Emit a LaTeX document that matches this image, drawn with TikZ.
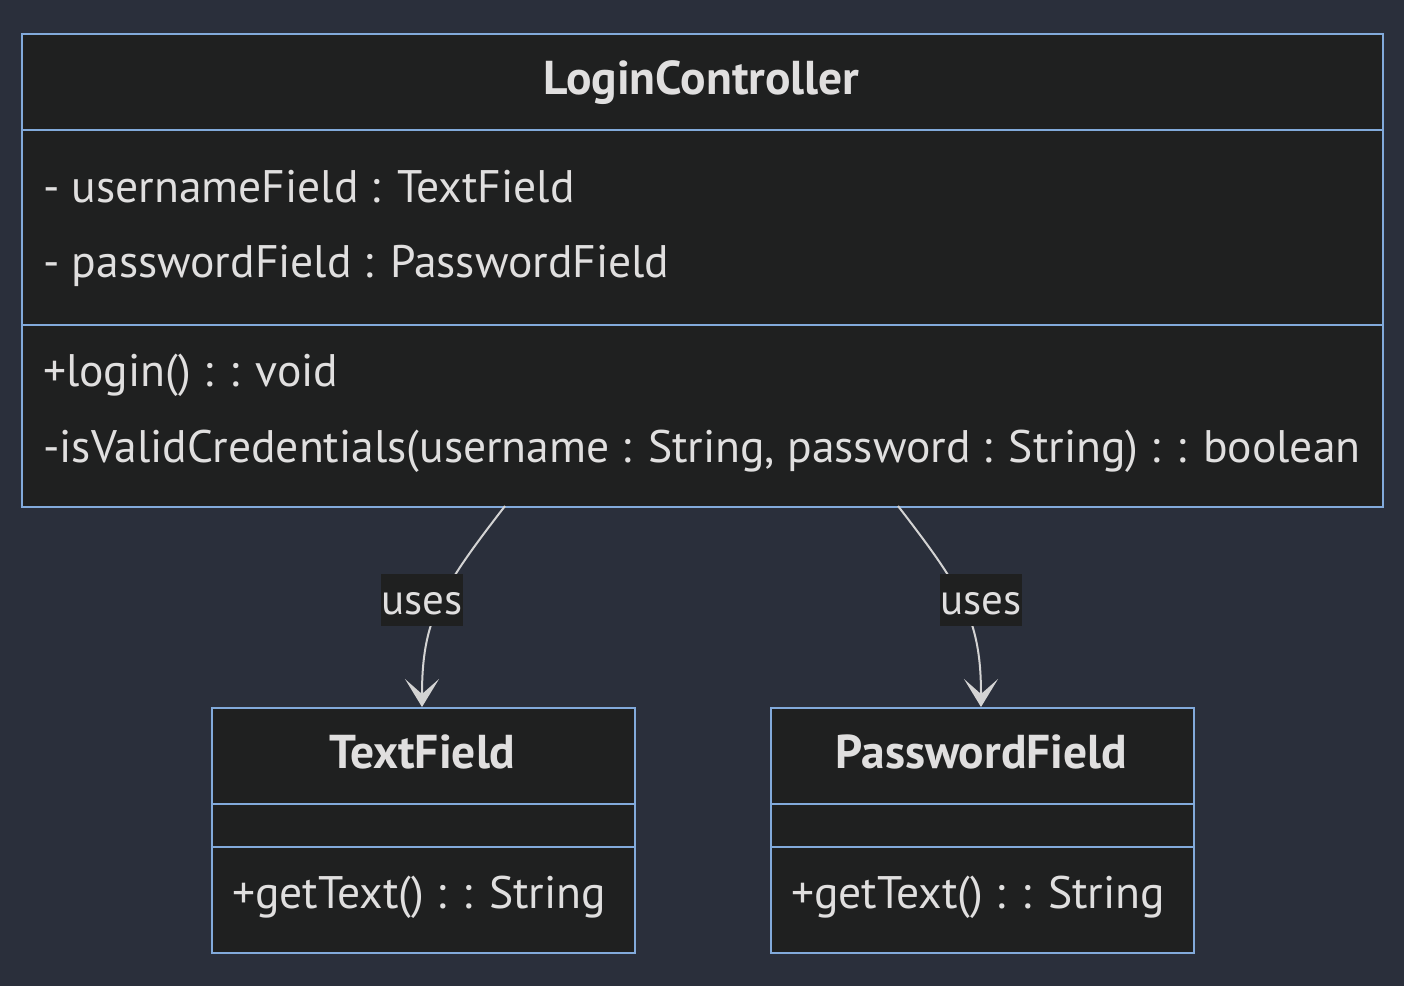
\documentclass[tikz,border=0pt]{standalone}
\usepackage{fontspec}
\setmainfont{PT Sans}
\usetikzlibrary{arrows.meta}
\definecolor{bgc}{HTML}{2A2F3B}
\definecolor{boxc}{HTML}{1F2020}
\definecolor{edgec}{HTML}{82AADB}
\definecolor{txtc}{HTML}{E0DFDF}
\definecolor{linec}{HTML}{D3D3D3}
\tikzset{
  classbox/.style={draw=edgec, fill=boxc, line width=2.2pt, rectangle, inner sep=0pt, anchor=north west},
  divider/.style={draw=edgec, line width=2.2pt},
  ttl/.style={text=txtc, font=\fontsize{47.5}{50}\selectfont\bfseries, anchor=base, inner sep=0pt},
  mbr/.style={text=txtc, font=\fontsize{45.6}{48}\selectfont, anchor=base west, inner sep=0pt},
  lbl/.style={fill=boxc, minimum width=82pt, minimum height=52pt, inner sep=0pt},
  lbltxt/.style={text=txtc, font=\fontsize{43}{45}\selectfont, anchor=base, inner sep=0pt},
  rel/.style={draw=linec, line width=2pt, -{Stealth[length=28pt,width=34pt,inset=15pt,line width=2pt]}}
}
\begin{document}
\begin{tikzpicture}[x=1pt,y=-1pt]
\useasboundingbox[fill=bgc] (0,0) rectangle (1404,986);
% LoginController
\node[classbox, minimum width=1361pt, minimum height=473pt] (lc) at (21,33) {};
\draw[divider] (21,130) -- (1382,130);
\draw[divider] (21,325) -- (1382,325);
\node[ttl] (lct) at (701.5,94) {LoginController};
\node[mbr] (a1) at (43,202) {- usernameField : TextField};
\node[mbr] (a2) at (43,277) {- passwordField : PasswordField};
\node[mbr] (m1) at (43,386) {+login() : : void};
\node[mbr] (m2) at (43,462) {-isValidCredentials(username : String, password : String) : : boolean};
% TextField
\node[classbox, minimum width=423pt, minimum height=245pt] (tf) at (211,707) {};
\draw[divider] (211,804) -- (634,804);
\draw[divider] (211,847) -- (634,847);
\node[ttl] (tft) at (422.5,768) {TextField};
\node[mbr] (tfm) at (232,908) {+getText() : : String};
% PasswordField
\node[classbox, minimum width=423pt, minimum height=245pt] (pf) at (770,707) {};
\draw[divider] (770,804) -- (1193,804);
\draw[divider] (770,847) -- (1193,847);
\node[ttl] (pft) at (981.5,768) {PasswordField};
\node[mbr] (pfm) at (791,908) {+getText() : : String};
% edges
\coordinate (s1) at (505,506);
\coordinate (s2) at (898,506);
\draw[rel] (s1) .. controls (440,590) and (422,620) .. (tf.north -| 422,0);
\draw[rel] (s2) .. controls (963,590) and (981,620) .. (pf.north -| 981,0);
\node[lbl] (u1) at (422,600) {};
\node[lbl] (u2) at (981,600) {};
\node[lbltxt] (u1t) at (422,614) {uses};
\node[lbltxt] (u2t) at (981,614) {uses};
\end{tikzpicture}
\end{document}
